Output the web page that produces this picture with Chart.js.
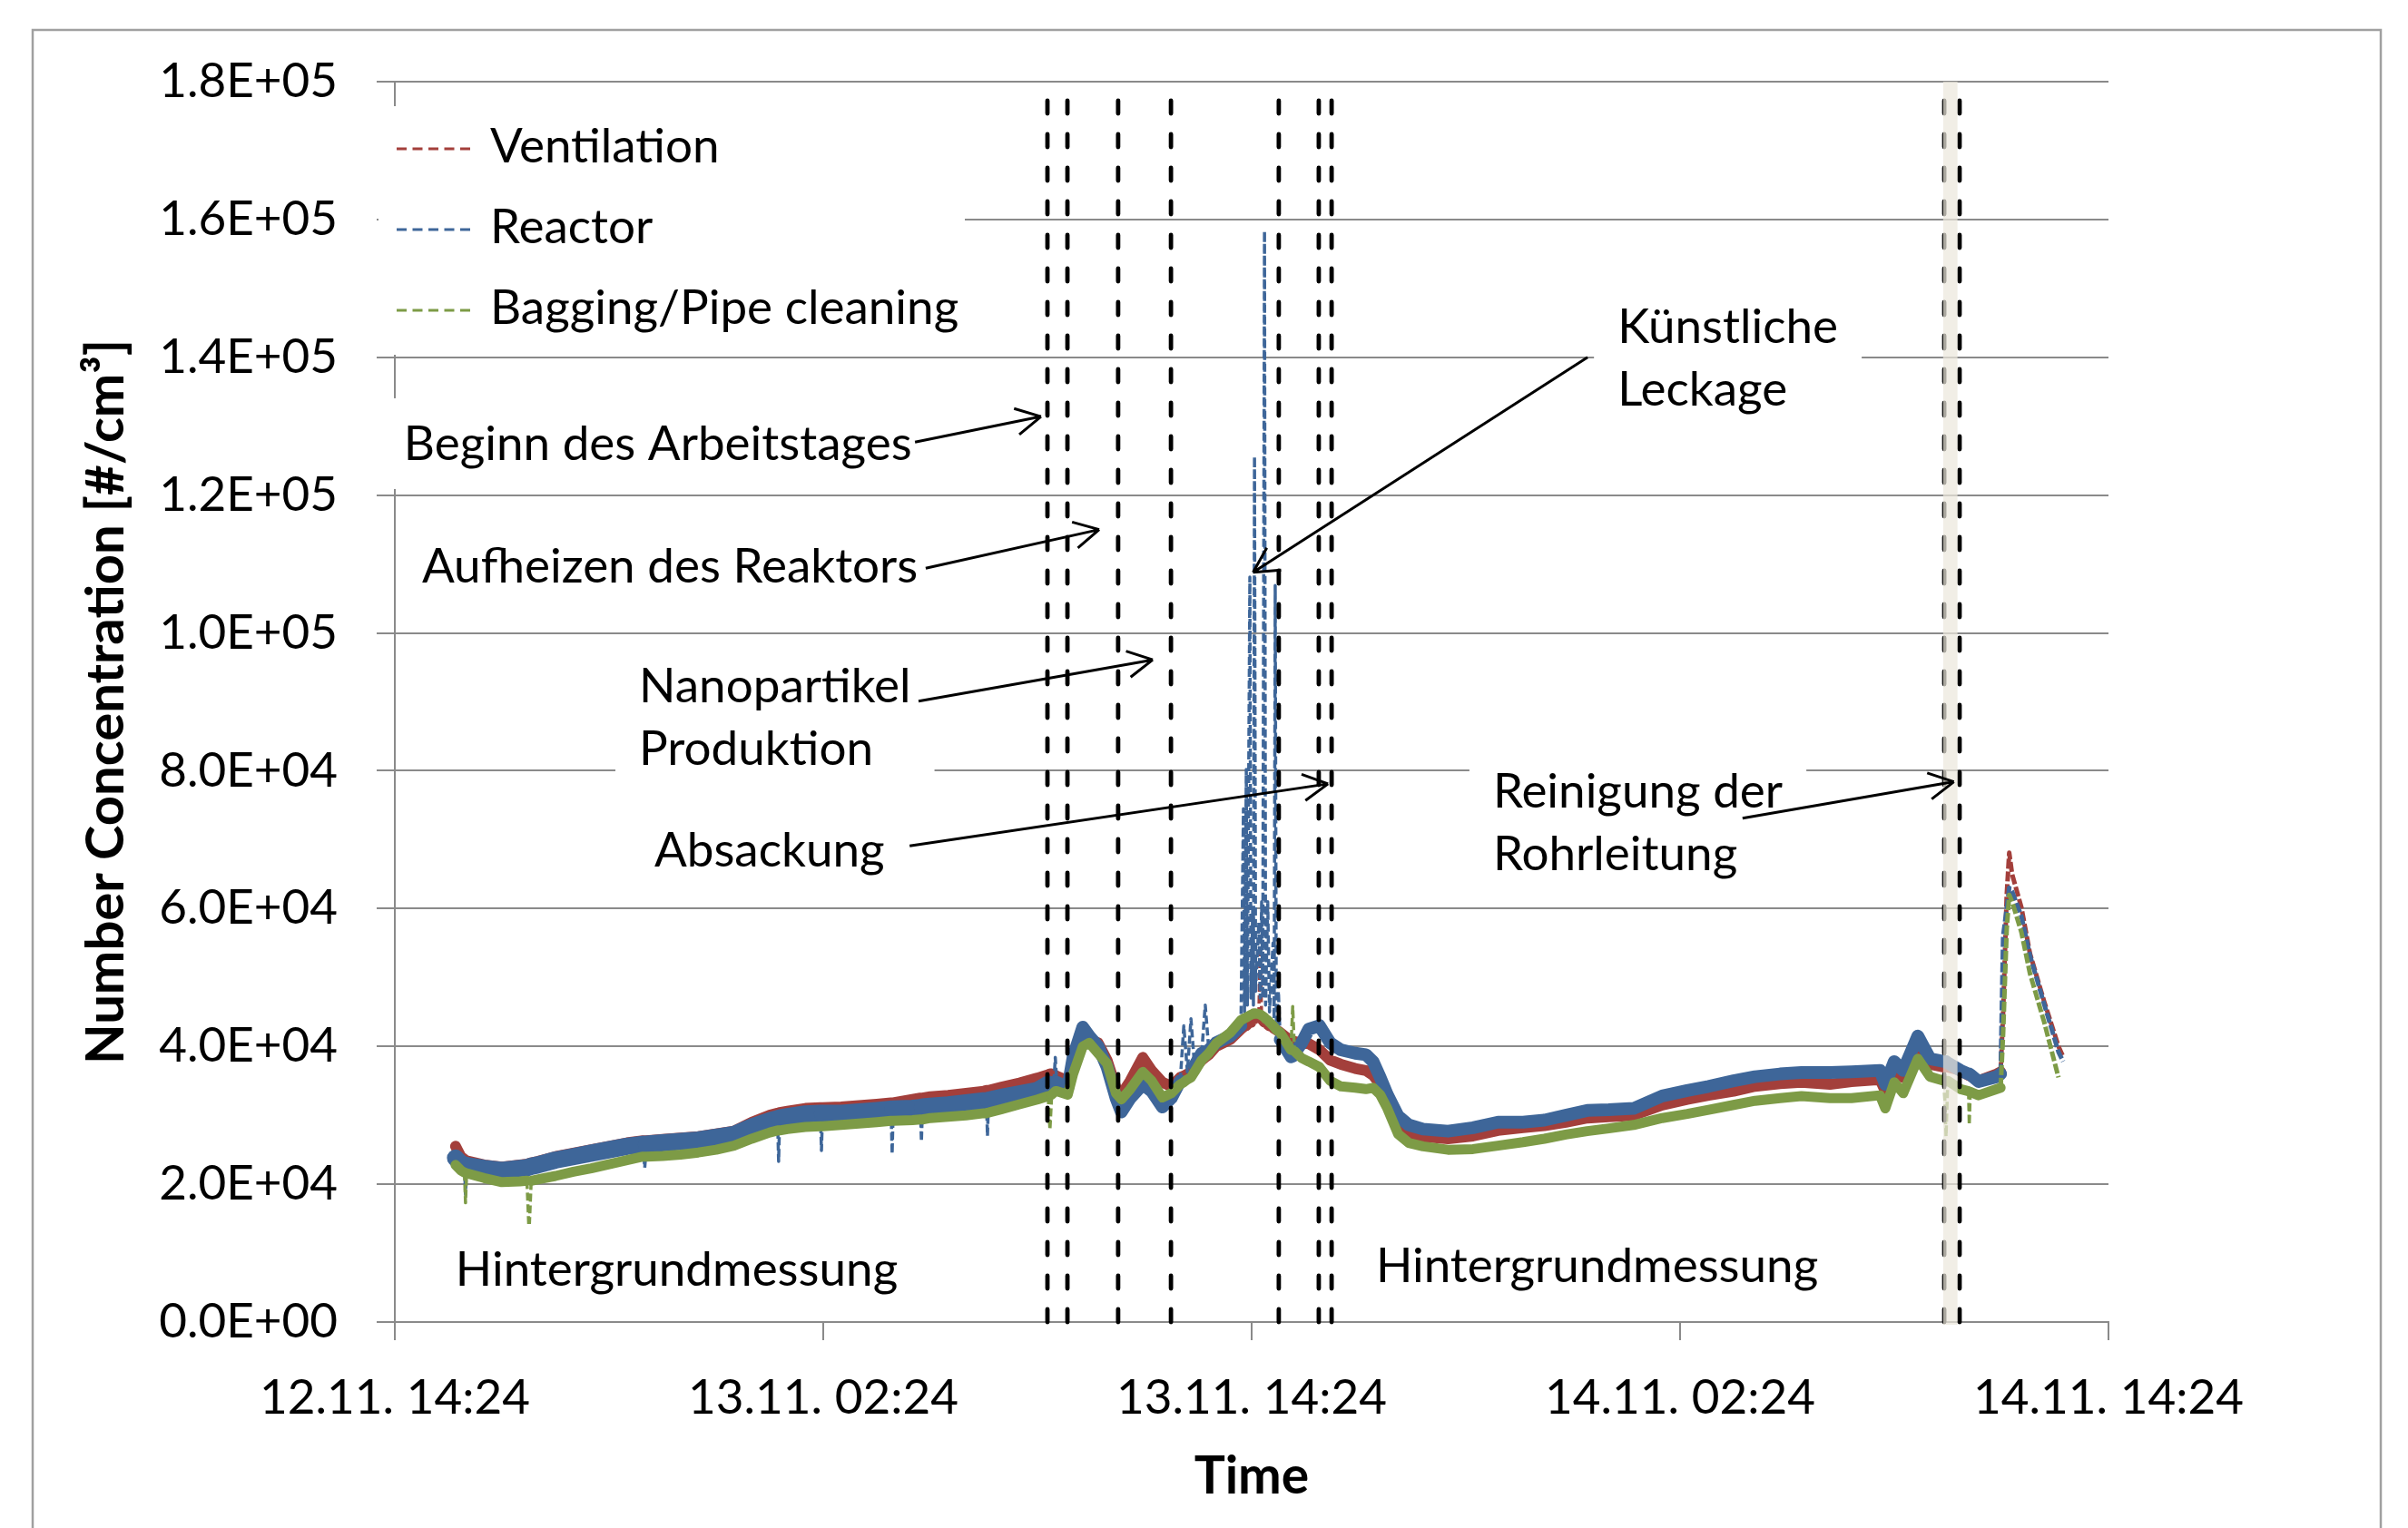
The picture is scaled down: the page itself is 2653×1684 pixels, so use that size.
<!DOCTYPE html>
<html>
<head>
<meta charset="utf-8">
<title>Number concentration</title>
<script src="https://cdn.jsdelivr.net/npm/chart.js@4.4.1/dist/chart.umd.min.js"></script>
<style>
  html, body { margin: 0; padding: 0; background: #fff; }
  #chart { display: block; }
</style>
</head>
<body>
<canvas id="chart" width="2653" height="1684"></canvas>
<script>
// time in hours after 12.11. 14:24
const hours = [
  1.70, 1.85, 1.95, 1.98, 2.01, 2.50, 3.00, 3.50, 3.70, 3.76, 3.82, 4.00, 4.50, 5.00, 5.50, 6.00,
  6.50, 6.95, 7.00, 7.05, 7.50, 8.00, 8.50, 9.00, 9.50, 10.00, 10.50, 10.72, 10.75, 10.78, 11.00, 11.50,
  11.92, 11.95, 11.98, 12.50, 13.00, 13.50, 13.90, 13.93, 13.96, 14.50, 14.72, 14.75, 14.78, 15.00, 15.50, 16.00,
  16.50, 16.57, 16.60, 16.63, 17.00, 17.50, 18.00, 18.30, 18.35, 18.40, 18.46, 18.50, 18.54, 18.85, 19.00, 19.27,
  19.45, 19.70, 19.95, 20.20, 20.35, 20.60, 20.95, 21.20, 21.50, 21.75, 22.00, 22.10, 22.20, 22.30, 22.40, 22.60,
  22.70, 22.80, 23.00, 23.40, 23.70, 23.77, 23.80, 23.85, 23.88, 23.95, 23.98, 24.03, 24.05, 24.08, 24.11, 24.20,
  24.24, 24.28, 24.31, 24.36, 24.39, 24.45, 24.50, 24.60, 24.63, 24.66, 24.69, 24.75, 24.80, 25.10, 25.15, 25.20,
  25.40, 25.60, 25.90, 26.20, 26.50, 26.90, 27.20, 27.40, 27.60, 27.80, 28.10, 28.40, 28.80, 29.50, 30.20, 30.90,
  31.60, 32.20, 32.80, 33.40, 34.00, 34.70, 35.50, 36.20, 36.80, 37.50, 38.10, 38.80, 39.40, 40.20, 40.80, 41.60,
  41.75, 42.00, 42.25, 42.66, 43.00, 43.40, 43.45, 43.50, 43.86, 44.08, 44.10, 44.13, 44.36, 44.87, 44.98, 45.05,
  45.15, 45.22, 45.30, 45.56, 45.80, 46.20, 46.60, 46.73
];

// #/cm³
const ventilation = [
  25500, 24000, 23600, 23500, 23400, 22800, 22500, 22800, 22900, 23000, 23100, 23300, 24000, 24500, 25000, 25500,
  26000, 26300, 26300, 26300, 26500, 26700, 26900, 27300, 27700, 29000, 30000, 30300, 30300, 30400, 30600, 31000,
  31100, 31100, 31100, 31200, 31400, 31600, 31800, 31800, 31800, 32300, 32500, 32500, 32500, 32700, 32900, 33200,
  33500, 33600, 33600, 33600, 34100, 34700, 35400, 35900, 36000, 36000, 35900, 35800, 35700, 35000, 37500, 41500,
  41000, 40500, 38000, 34000, 33000, 35000, 38400, 36500, 34800, 34200, 35500, 35700, 36000, 36200, 36800, 38000,
  38400, 38800, 40000, 41000, 42500, 42800, 43000, 43000, 43200, 43500, 43500, 44000, 44000, 44000, 44200, 44500,
  54600, 44000, 43800, 43500, 43500, 43200, 43000, 42800, 42600, 42500, 42400, 42200, 42000, 40800, 40800, 40700,
  40500, 40400, 39500, 38000, 37400, 36800, 36500, 35800, 34500, 32500, 28600, 27500, 26900, 26600, 27000, 27800,
  28200, 28500, 29000, 29600, 29800, 30000, 31500, 32300, 32900, 33500, 34200, 34600, 34800, 34500, 34900, 35200,
  33500, 36500, 35500, 39500, 37400, 37000, 37000, 37000, 36500, 35800, 35800, 35700, 35000, 36000, 36300, 45000,
  62000, 68100, 65000, 60200, 53500, 46500, 40000, 38500
];

const reactor = [
  23800, 23000, 22800, 18500, 22700, 22300, 22000, 22300, 22400, 22500, 22600, 22800, 23500, 24000, 24500, 25000,
  25500, 25800, 22400, 25800, 26000, 26200, 26400, 26800, 27200, 28300, 29200, 29500, 23300, 29600, 29800, 30200,
  30300, 24900, 30300, 30300, 30500, 30700, 30900, 24400, 30900, 31000, 31100, 26200, 31200, 31300, 31500, 31800,
  32100, 32100, 27000, 32200, 32600, 33100, 33600, 34500, 34600, 34700, 34800, 38400, 34800, 34000, 38500, 42800,
  41500, 40000, 37000, 32500, 30500, 32500, 34500, 33500, 31200, 32500, 35000, 43000, 36300, 44000, 37200, 39000,
  46000, 39500, 40500, 41500, 43000, 74500, 45000, 80200, 46000, 108100, 47000, 60000, 46000, 125600, 48000, 58000,
  47000, 61000, 47000, 158300, 46000, 61000, 45000, 55000, 44000, 106900, 43000, 48000, 41000, 38500, 38600, 39000,
  40500, 42500, 43000, 40500, 39500, 39000, 38800, 37800, 35500, 33000, 29900, 28600, 28000, 27700, 28200, 29000,
  29000, 29300, 30000, 30700, 30800, 31000, 32800, 33600, 34200, 35000, 35600, 36000, 36200, 36200, 36300, 36500,
  34500, 37800, 36500, 41500, 38200, 37800, 37800, 37600, 36500, 36000, 36000, 35900, 34900, 35600, 36000, 56000,
  60000, 63000, 62500, 58900, 53200, 46100, 39200, 37800
];

const bagging = [
  22800, 22000, 21700, 17300, 21600, 20900, 20300, 20400, 20500, 13000, 20500, 20700, 21200, 21800, 22300, 22900,
  23500, 24000, 24000, 24000, 24100, 24300, 24600, 25000, 25600, 26600, 27500, 27800, 27800, 27800, 28000, 28300,
  28400, 28400, 28400, 28600, 28800, 29000, 29200, 29200, 29200, 29300, 29400, 29400, 29400, 29600, 29800, 30000,
  30300, 30300, 30400, 30400, 30900, 31600, 32300, 32800, 27900, 33000, 33300, 33500, 33500, 33000, 36000, 40000,
  40500, 39000, 37500, 33200, 32300, 33800, 36300, 35000, 32600, 33200, 34500, 34800, 35200, 35500, 36300, 38000,
  38500, 39000, 40400, 42000, 43800, 44000, 44100, 44200, 44300, 44500, 44600, 44700, 44800, 44800, 44800, 44700,
  44600, 44500, 44400, 44200, 44000, 43800, 43500, 43000, 42800, 42600, 42400, 42200, 42000, 39500, 45800, 39300,
  38300, 37800, 37000, 35000, 34200, 34000, 33800, 34000, 33000, 31000, 27300, 26000, 25500, 25000, 25100, 25600,
  26100, 26600, 27200, 27700, 28100, 28600, 29600, 30200, 30800, 31500, 32100, 32500, 32800, 32500, 32500, 32900,
  31000, 34800, 33200, 38200, 35600, 35000, 26900, 35000, 33800, 33500, 28600, 33400, 32900, 33800, 34000, 42000,
  57000, 62000, 61000, 56600, 50600, 43500, 35500, null
];

const seriesNames = ['Ventilation', 'Reactor', 'Bagging/Pipe cleaning'];
const seriesColors = ['#A33F3B', '#3E6699', '#7D9B46'];

const xTickLabels = ['12.11. 14:24', '13.11. 02:24', '13.11. 14:24', '14.11. 02:24', '14.11. 14:24'];
const yTickLabels = ['0.0E+00', '2.0E+04', '4.0E+04', '6.0E+04', '8.0E+04', '1.0E+05',
                     '1.2E+05', '1.4E+05', '1.6E+05', '1.8E+05'];

// dashed phase markers (hours) and the shaded pipe cleaning period
const eventHours = [18.28, 18.84, 20.26, 21.74, 24.76, 25.88, 26.24, 43.40, 43.83];
const cleaningBand = [43.37, 43.77];

// text notes: left edge / baseline of first line in data units
const notes = [
  { text: ['Beginn des Arbeitstages'], at: [0.25, 125100] },
  { text: ['Aufheizen des Reaktors'], at: [0.76, 107300] },
  { text: ['Nanopartikel', 'Produktion'], at: [6.84, 89900] },
  { text: ['Absackung'], at: [7.27, 66100] },
  { text: ['Künstliche', 'Leckage'], at: [34.25, 142100] },
  { text: ['Reinigung der', 'Rohrleitung'], at: [30.76, 74700] },
  { text: ['Hintergrundmessung'], at: [1.70, 5270] },
  { text: ['Hintergrundmessung'], at: [27.48, 5790] }
];
const arrows = [
  [[14.57, 127700], [18.10, 131400]],
  [[14.87, 109400], [19.73, 115000]],
  [[14.67, 90100], [21.23, 96100]],
  [[14.42, 69100], [26.14, 78100]],
  [[33.41, 140000], [24.04, 108800]],
  [[37.75, 73100], [43.67, 78400]]
];

const FONT = 'Lato, "Open Sans", sans-serif';
const GRID = '#8a8a8a';

function points(values) {
  return hours.map((h, i) => ({ x: h, y: values[i] }));
}

// the last peak is drawn as a plain dashed line
function isPeak(ctx) {
  return ctx.p0.parsed.x >= 44.9;
}

// steep jumps (single spikes) are thin and dashed
function isSpike(ctx) {
  const dx = ctx.p1.parsed.x - ctx.p0.parsed.x;
  const dy = Math.abs(ctx.p1.parsed.y - ctx.p0.parsed.y);
  return dy / dx > 40000;
}

function makeDataset(idx, values, width, order, wideBefore) {
  return {
    label: seriesNames[idx],
    data: points(values),
    borderColor: seriesColors[idx],
    borderWidth: width,
    borderJoinStyle: 'round',
    borderCapStyle: 'round',
    pointRadius: 0,
    tension: 0,
    order: order,
    segment: {
      borderWidth: ctx => {
        if (isPeak(ctx)) return 5;
        if (isSpike(ctx)) return 3.5;
        if (wideBefore && ctx.p0.parsed.x < wideBefore[0]) return wideBefore[1];
        return undefined;
      },
      borderDash: ctx => isPeak(ctx) ? [11, 3] : (isSpike(ctx) ? [9, 4] : undefined),
      borderCapStyle: ctx => (isPeak(ctx) || isSpike(ctx)) ? 'butt' : undefined
    }
  };
}

function drawArrow(ctx, x0, y0, x1, y1) {
  const ang = Math.atan2(y1 - y0, x1 - x0);
  ctx.beginPath();
  ctx.moveTo(x0, y0);
  ctx.lineTo(x1, y1);
  [-1, 1].forEach(s => {
    const a = ang + Math.PI + s * 0.49;
    ctx.moveTo(x1, y1);
    ctx.lineTo(x1 + 31 * Math.cos(a), y1 + 31 * Math.sin(a));
  });
  ctx.stroke();
}

const frame = {
  id: 'frame',
  beforeDraw(chart) {
    const ctx = chart.ctx;
    ctx.save();
    ctx.fillStyle = '#fff';
    ctx.fillRect(0, 0, chart.width, chart.height);
    ctx.strokeStyle = '#a0a0a0';
    ctx.lineWidth = 2.5;
    ctx.strokeRect(36, 33, 2587, 1700);
    ctx.restore();
  }
};

const overlay = {
  id: 'overlay',
  afterDatasetsDraw(chart) {
    const { ctx, chartArea: area, scales: { x, y } } = chart;
    ctx.save();

    // phase markers
    ctx.strokeStyle = '#000';
    ctx.lineWidth = 4.8;
    ctx.lineCap = 'round';
    ctx.setLineDash([14, 23]);
    eventHours.forEach(h => {
      const px = x.getPixelForValue(h);
      ctx.beginPath();
      ctx.moveTo(px, area.bottom);
      ctx.lineTo(px, area.top);
      ctx.stroke();
    });
    ctx.setLineDash([]);

    // shaded cleaning period
    const b0 = x.getPixelForValue(cleaningBand[0]);
    const b1 = x.getPixelForValue(cleaningBand[1]);
    ctx.fillStyle = 'rgba(236,232,220,0.72)';
    ctx.fillRect(b0, area.top, b1 - b0, area.bottom - area.top + 3);

    // text notes on white boxes
    ctx.font = '53px ' + FONT;
    ctx.textBaseline = 'alphabetic';
    ctx.textAlign = 'left';
    notes.forEach(n => {
      const tx = x.getPixelForValue(n.at[0]);
      const ty = y.getPixelForValue(n.at[1]);
      const w = Math.max(...n.text.map(t => ctx.measureText(t).width));
      const lastY = ty + 69 * (n.text.length - 1);
      ctx.fillStyle = '#fff';
      ctx.fillRect(tx - 26, ty - 68, w + 52, lastY - ty + 100);
      ctx.fillStyle = '#000';
      n.text.forEach((t, i) => ctx.fillText(t, tx, ty + 69 * i));
    });

    // arrows
    ctx.strokeStyle = '#000';
    ctx.lineWidth = 3;
    ctx.lineCap = 'butt';
    arrows.forEach(([p0, p1]) => {
      drawArrow(ctx, x.getPixelForValue(p0[0]), y.getPixelForValue(p0[1]),
                x.getPixelForValue(p1[0]), y.getPixelForValue(p1[1]));
    });

    // legend
    ctx.fillStyle = '#fff';
    ctx.fillRect(area.left - 18, area.top + 27, 646, 274);
    ctx.lineWidth = 3;
    ctx.setLineDash([11, 6.5]);
    seriesNames.forEach((name, i) => {
      const ly = area.top + 74 + i * 89;
      ctx.strokeStyle = seriesColors[i];
      ctx.beginPath();
      ctx.moveTo(area.left + 2, ly);
      ctx.lineTo(area.left + 88, ly);
      ctx.stroke();
      ctx.fillStyle = '#000';
      ctx.fillText(name, area.left + 105, ly + 15);
    });
    ctx.restore();
  }
};

new Chart(document.getElementById('chart'), {
  type: 'line',
  data: {
    datasets: [
      makeDataset(0, ventilation, 12, 2, null),
      makeDataset(1, reactor, 14, 1, [18.3, 19]),
      makeDataset(2, bagging, 11, 0, null)
    ]
  },
  options: {
    responsive: false,
    animation: false,
    devicePixelRatio: 1,
    layout: { padding: { left: 0, top: 90, right: 330, bottom: 0 } },
    plugins: {
      legend: { display: false },
      tooltip: { enabled: false }
    },
    scales: {
      x: {
        type: 'linear',
        min: 0,
        max: 48,
        afterFit: s => { s.height = 227; },
        ticks: {
          stepSize: 12,
          autoSkip: false,
          maxRotation: 0,
          padding: 32,
          color: '#000',
          font: { family: FONT, size: 53 },
          callback: (v, i) => xTickLabels[i]
        },
        grid: { drawOnChartArea: false, drawTicks: true, tickLength: 20, color: GRID, lineWidth: 2 },
        border: { display: true, color: GRID, width: 2 },
        title: {
          display: true,
          text: 'Time',
          color: '#000',
          font: { family: FONT, size: 57, weight: 'bold' },
          padding: { top: 0, bottom: 22 }
        }
      },
      y: {
        min: 0,
        max: 180000,
        afterFit: s => { s.width = 435; },
        ticks: {
          stepSize: 20000,
          autoSkip: false,
          padding: 43,
          color: '#000',
          font: { family: FONT, size: 53 },
          callback: (v, i) => yTickLabels[i]
        },
        grid: { drawTicks: true, tickLength: 20, color: GRID, lineWidth: 2 },
        border: { display: true, color: GRID, width: 2 },
        title: {
          display: true,
          text: 'Number Concentration [#/cm³]',
          color: '#000',
          font: { family: FONT, size: 58, weight: 'bold' },
          padding: { top: 82, bottom: 0 }
        }
      }
    }
  },
  plugins: [frame, overlay]
});
</script>
</body>
</html>
